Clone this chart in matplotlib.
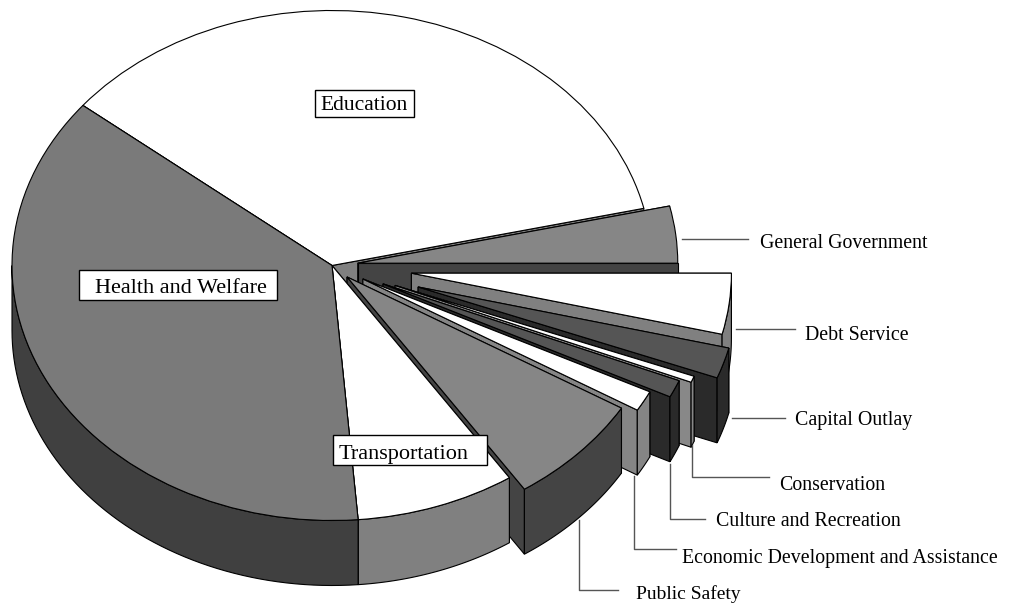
import numpy as np
import matplotlib
matplotlib.use('Agg')
import matplotlib.pyplot as plt
from matplotlib.patches import Polygon, Rectangle
from matplotlib.lines import Line2D

plt.rcParams['font.family'] = ['Liberation Serif', 'DejaVu Serif']

# share of spending, counterclockwise from 3 o'clock
names = ['General Government', 'Education', 'Health and Welfare', 'Transportation',
         'Public Safety', 'Economic Development and Assistance', 'Culture and Recreation',
         'Conservation', 'Capital Outlay', 'Debt Service']
shares = [3.6, 35.6, 37.1, 8.05, 7.05, 1.3, 1.1, 0.4, 1.95, 3.85]
explode = [0.081, 0, 0, 0, 0.065, 0.11, 0.175, 0.212, 0.282, 0.25]

top_colors = ['#868686', '#ffffff', '#7a7a7a', '#ffffff', '#868686',
              '#ffffff', '#555555', '#ffffff', '#555555', '#ffffff']
wall_colors = ['#444444', '#808080', '#404040', '#808080', '#444444',
               '#858585', '#2a2a2a', '#888888', '#2a2a2a', '#808080']
# back to front
draw_order = [1, 0, 9, 8, 7, 6, 5, 4, 3, 2]

W, H = 1016, 605
CX, CY, RX, RY = 332, 265.5, 320, 255
DEPTH = 65 / RY

fig = plt.figure(figsize=(W / 100, H / 100), dpi=100)
ax = fig.add_axes([0, 0, 1, 1])
wedges, _ = ax.pie(shares, explode=explode, colors=top_colors, startangle=0,
                   wedgeprops={'edgecolor': 'black', 'linewidth': 0.8})
ax.set_aspect('auto')
ax.set_xlim(-CX / RX, (W - CX) / RX)
ax.set_ylim((CY - H) / RY, CY / RY)
ax.axis('off')


def draw_walls(w, color, z):
    cx, cy = w.center
    # far side first so the near side covers its bottom edge
    for t in (w.theta2, w.theta1):
        x = cx + w.r * np.cos(np.radians(t))
        y = cy + w.r * np.sin(np.radians(t))
        ax.add_patch(Polygon([(cx, cy), (x, y), (x, y - DEPTH), (cx, cy - DEPTH)],
                             facecolor=color, edgecolor='black', lw=0.8, zorder=z))
    # outer rim, only the part facing the viewer
    a1, a2 = max(w.theta1, 180), min(w.theta2, 360)
    if a2 > a1:
        a = np.radians(np.linspace(a1, a2, 60))
        x = cx + w.r * np.cos(a)
        y = cy + w.r * np.sin(a)
        pts = np.r_[np.c_[x, y], np.c_[x, y - DEPTH][::-1]]
        ax.add_patch(Polygon(pts, facecolor=color, edgecolor='black', lw=0.8, zorder=z))


for rank, i in enumerate(draw_order):
    draw_walls(wedges[i], wall_colors[i], 2 + rank * 2)
    wedges[i].set_zorder(3 + rank * 2)


def fx(x):
    return x / W


def fy(y):
    return 1 - y / H


# leader lines
leaders = [
    ([682, 748], [239, 239]),
    ([736, 795], [329, 329]),
    ([732, 785], [418, 418]),
    ([692, 692, 769], [445, 477, 477]),
    ([670, 670, 705], [464, 519, 519]),
    ([634, 634, 676], [476, 549, 549]),
    ([579, 579, 618], [520, 590, 590]),
]
for xs, ys in leaders:
    fig.add_artist(Line2D([fx(v) for v in xs], [fy(v) for v in ys], color='#555555', lw=1,
                          transform=fig.transFigure, zorder=5))

# boxed labels
boxes = [(315, 90, 99, 27), (79, 270, 198, 30), (333, 435, 154, 30)]
for bx, by, bw, bh in boxes:
    fig.add_artist(Rectangle((fx(bx), fy(by + bh)), bw / W, bh / H, facecolor='white',
                             edgecolor='black', lw=1, transform=fig.transFigure, zorder=6))

labels = [
    (names[1], 364, 106, 'center', 15.5),
    (names[2], 181, 288, 'center', 16),
    (names[3], 404, 455, 'center', 16),
    (names[0], 760, 244, 'left', 14.3),
    (names[9], 805, 336, 'left', 14.3),
    (names[8], 795, 420, 'left', 14.3),
    (names[7], 779, 486, 'left', 14.3),
    (names[6], 716, 522, 'left', 14.3),
    (names[5], 682, 558, 'left', 14.3),
    (names[4], 636, 594, 'left', 14),
]
for txt, x, y, ha, size in labels:
    fig.text(fx(x), fy(y), txt, ha=ha, va='center', fontsize=size, color='black', zorder=7)

fig.savefig('out.png', dpi=100, facecolor='white')
